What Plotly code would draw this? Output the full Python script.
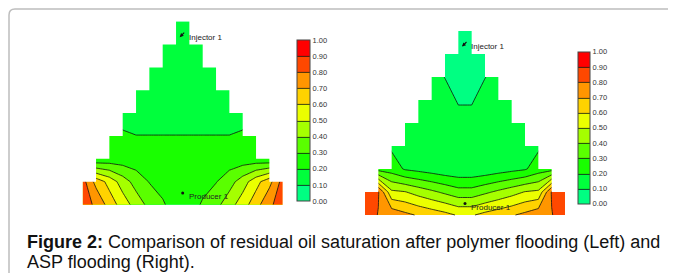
import plotly.graph_objects as go

# page body has an 8px margin: figure is placed at (8, 8) in the 676x273 window
OFF = 8
W, H = 676 - OFF, 273 - OFF
N = None

# ---- data: node values of residual oil saturation (grid nodes, bottom row first) ----
x_nodes = list(range(16))
y_nodes = list(range(9))

polymer = [
    [.825, .79, .655, .555, .455, .37, .31, .26, .26, .31, .37, .455, .555, .655, .79, .825],
    [.84, .665, .565, .45, .36, .295, .27, .25, .25, .27, .295, .36, .45, .565, .665, .84],
    [N, .22, .235, .24, .24, .245, .245, .245, .245, .245, .245, .24, .24, .235, .22, N],
    [N, N, .22, .213, .202, .202, .202, .202, .202, .202, .202, .202, .213, .22, N, N],
    [N, N, N, .163, .15, .15, .15, .15, .15, .15, .15, .15, .163, N, N, N],
    [N, N, N, N, .14, .14, .14, .14, .14, .14, .14, .14, N, N, N, N],
    [N, N, N, N, N, .13, .13, .13, .13, .13, .13, N, N, N, N, N],
    [N, N, N, N, N, N, .12, .12, .12, .12, N, N, N, N, N, N],
    [N, N, N, N, N, N, N, .12, .12, N, N, N, N, N, N, N],
]

asp = [
    [.86, .795, .77, .725, .69, .66, .63, .59, .59, .63, .66, .69, .725, .77, .795, .86],
    [.86, .81, .52, .505, .46, .42, .38, .34, .34, .38, .42, .46, .505, .52, .81, .86],
    [N, .26, .25, .19, .17, .15, .13, .12, .12, .13, .15, .17, .19, .25, .26, N],
    [N, N, .183, .17, .15, .14, .13, .125, .125, .13, .14, .15, .17, .183, N, N],
    [N, N, N, .15, .14, .135, .13, .125, .125, .13, .135, .14, .15, N, N, N],
    [N, N, N, N, .14, .135, .13, .093, .093, .13, .135, .14, N, N, N, N],
    [N, N, N, N, N, .13, .098, .07, .07, .098, .13, N, N, N, N, N],
    [N, N, N, N, N, N, .06, .05, .05, .06, N, N, N, N, N, N],
    [N, N, N, N, N, N, N, .04, .04, N, N, N, N, N, N, N],
]

band_colors = ["#00FF82", "#00FF3C", "#19FF00", "#5AFF00", "#A5FF00",
               "#EBFF00", "#FFD200", "#FF9600", "#FF4800", "#FF0000"]
tick_vals = [0.0, 0.1, 0.2, 0.3, 0.4, 0.5, 0.6, 0.7, 0.8, 0.9, 1.0]
tick_text = ["0.00", "0.10", "0.20", "0.30", "0.40", "0.50", "0.60", "0.70", "0.80", "0.90", "1.00"]

well_names = ["Injector 1", "Producer 1"]
well_kind = ["injector", "producer"]
well_x = [7.5, 7.5]
well_y = [7.5, 0.5]

caption_lines = [
    "<b>Figure 2:</b> Comparison of residual oil saturation after polymer flooding (Left) and",
    "ASP flooding (Right).",
]

# ---- layout helpers (window pixel -> paper) ----
def px(v):
    return (v - OFF) / W

def py(v):
    return 1 - (v - OFF) / H

FONT = "Liberation Sans, Arial, sans-serif"
colorscale = [[k / (len(band_colors) - 1), c] for k, c in enumerate(band_colors)]
PAD = 0.25  # axis padding (data units) so the grid edge sits inside the plot area

panels = [
    dict(z=polymer, xa="x", ya="y", xpx=(82.7, 282.7), ypx=(204.5, 21.7),
         cbx=296.7, cbtop=40, cblen=160.7, cbth=13.3),
    dict(z=asp, xa="x2", ya="y2", xpx=(365, 565), ypx=(215, 31),
         cbx=578.3, cbtop=51.7, cblen=152.3, cbth=12.4),
]

fig = go.Figure()
shapes = []
annotations = []
axes = {}

def cell_active(z, r, c):
    return all(z[j][i] is not None for j in (r, r + 1) for i in (c, c + 1))

axis_common = dict(visible=False, showgrid=False, zeroline=False, fixedrange=True)

for k, p in enumerate(panels):
    z = p["z"]
    x0, x1 = x_nodes[0], x_nodes[-1]
    y0, y1 = y_nodes[0], y_nodes[-1]
    sx = (p["xpx"][1] - p["xpx"][0]) / (x1 - x0)
    sy = (p["ypx"][0] - p["ypx"][1]) / (y1 - y0)
    xdom = [px(p["xpx"][0] - PAD * sx), px(p["xpx"][1] + PAD * sx)]
    ydom = [py(p["ypx"][0] + PAD * sy), py(p["ypx"][1] - PAD * sy)]
    xname = "xaxis" + ("" if k == 0 else str(k + 1))
    yname = "yaxis" + ("" if k == 0 else str(k + 1))
    axes[xname] = dict(domain=xdom, range=[x0 - PAD, x1 + PAD], anchor=p["ya"], **axis_common)
    axes[yname] = dict(domain=ydom, range=[y0 - PAD, y1 + PAD], anchor=p["xa"], **axis_common)

    fig.add_trace(go.Contour(
        x=x_nodes, y=y_nodes, z=z, xaxis=p["xa"], yaxis=p["ya"],
        zmin=0, zmax=1, autocontour=False,
        contours=dict(start=0.1, end=0.9, size=0.1, coloring="fill", showlines=True),
        colorscale=colorscale,
        line=dict(color="#111111", width=0.8, smoothing=0),
        connectgaps=True, hoverinfo="skip",
        colorbar=dict(
            x=px(p["cbx"]), xanchor="left", xpad=0,
            y=py(p["cbtop"]), yanchor="top", ypad=0,
            len=p["cblen"], lenmode="pixels",
            thickness=p["cbth"], thicknessmode="pixels",
            outlinewidth=1, outlinecolor="#444444",
            tickmode="array", tickvals=tick_vals, ticktext=tick_text,
            ticks="", tickfont=dict(size=7.5, color="#333333", family=FONT),
        ),
    ))
    # white staircase masks over inactive grid cells (one polygon per side)
    nrow, ncol = len(y_nodes) - 1, len(x_nodes) - 1
    lo, hi = [], []
    for r in range(nrow):
        act = [c for c in range(ncol) if cell_active(z, r, c)]
        lo.append(x_nodes[min(act)])
        hi.append(x_nodes[max(act) + 1])
    x_min, x_max = x0 - 1, x1 + 1
    y_top = y1 + 1
    left_pts = [(x_min, y_top), (lo[-1], y_top)]
    right_pts = [(x_max, y_top), (hi[-1], y_top)]
    for r in range(nrow - 1, -1, -1):
        left_pts += [(lo[r], y_nodes[r + 1]), (lo[r], y_nodes[r])]
        right_pts += [(hi[r], y_nodes[r + 1]), (hi[r], y_nodes[r])]
    left_pts += [(lo[0], y0 - 1), (x_min, y0 - 1)]
    right_pts += [(hi[0], y0 - 1), (x_max, y0 - 1)]
    for pts in (left_pts, right_pts):
        path = "M " + " L ".join(f"{a},{b}" for a, b in pts) + " Z"
        shapes.append(dict(type="path", xref=p["xa"], yref=p["ya"], path=path,
                           fillcolor="white", line=dict(width=0), layer="above"))
    # wells
    for name, kind, wx, wy in zip(well_names, well_kind, well_x, well_y):
        if kind == "producer":
            fig.add_trace(go.Scatter(x=[wx], y=[wy], xaxis=p["xa"], yaxis=p["ya"], mode="markers",
                                     marker=dict(size=3, color="#111111"), hoverinfo="skip",
                                     showlegend=False))
            annotations.append(dict(x=wx, y=wy, xref=p["xa"], yref=p["ya"], text=name,
                                    showarrow=False, xanchor="left", yanchor="middle",
                                    xshift=4.5, yshift=-3.8,
                                    font=dict(size=8, color="#222222", family=FONT)))
        else:
            annotations.append(dict(x=wx, y=wy, xref=p["xa"], yref=p["ya"], text="",
                                    showarrow=True, arrowhead=2, arrowsize=0.7, arrowwidth=1.1,
                                    arrowcolor="#111111", ax=6, ay=-6, xshift=-3, yshift=-4))
            annotations.append(dict(x=wx, y=wy, xref=p["xa"], yref=p["ya"], text=name,
                                    showarrow=False, xanchor="left", yanchor="middle",
                                    xshift=4.5, yshift=-4.2,
                                    font=dict(size=8, color="#222222", family=FONT)))

# caption (two lines, tighter spacing than plotly's default)
for line_text, yc in zip(caption_lines, (242, 262)):
    annotations.append(dict(x=px(25), y=py(yc), xref="paper", yref="paper", text=line_text,
                            showarrow=False, xanchor="left", yanchor="middle", align="left",
                            font=dict(size=18, color="#111111", family=FONT)))

# rounded frame (top-left corner only visible)
frame = (f"M {px(9)},{py(290)} L {px(9)},{py(15)} "
         f"Q {px(9)},{py(9)} {px(15)},{py(9)} L {px(700)},{py(9)}")
shapes.append(dict(type="path", xref="paper", yref="paper", path=frame,
                   line=dict(color="#BDBDBD", width=1.5), layer="above"))

fig.update_layout(
    width=W, height=H, autosize=False,
    margin=dict(l=0, r=0, t=0, b=0),
    paper_bgcolor="white", plot_bgcolor="white",
    showlegend=False,
    shapes=shapes, annotations=annotations,
    **axes,
)

fig.write_html("out.html")
